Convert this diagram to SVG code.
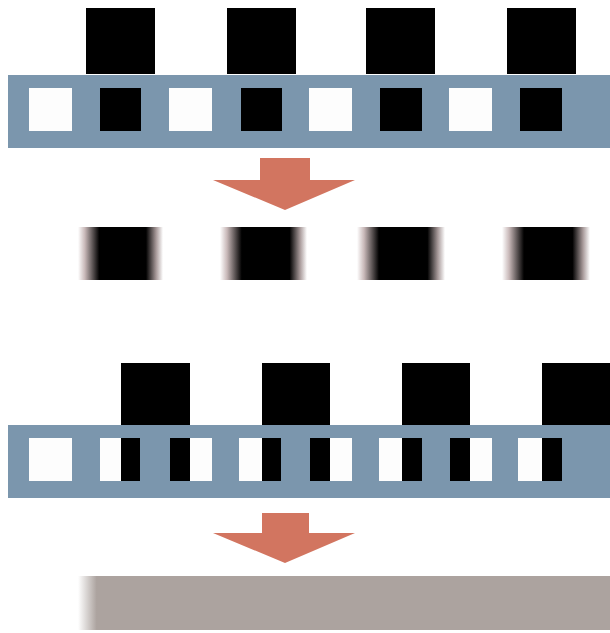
<svg xmlns="http://www.w3.org/2000/svg" width="610" height="633" viewBox="0 0 610 633">
<style>
.bar{fill:#7b96ad}
.blk{fill:#000}
.hole{fill:#fdfdfd}
.arr{fill:#d27560}
</style>
<defs>
<linearGradient id="blur" x1="0" y1="0" x2="1" y2="0">
<stop offset="0" stop-color="#fff"/>
<stop offset="0.08" stop-color="#c9b9b9"/>
<stop offset="0.25" stop-color="#000"/>
<stop offset="0.8" stop-color="#000"/>
<stop offset="0.92" stop-color="#a89a9a"/>
<stop offset="1" stop-color="#fff"/>
</linearGradient>
<linearGradient id="gfade" x1="0" y1="0" x2="1" y2="0">
<stop offset="0" stop-color="#fff"/>
<stop offset="0.035" stop-color="#aca39f"/>
<stop offset="1" stop-color="#aca39f"/>
</linearGradient>
</defs>
<g id="top-row">
<g id="top-squares">
<rect class="blk" x="86" y="8" width="69" height="66"/>
<rect class="blk" x="227" y="8" width="69" height="66"/>
<rect class="blk" x="366" y="8" width="69" height="66"/>
<rect class="blk" x="507" y="8" width="69" height="66"/>
</g>
<rect class="bar" x="8" y="75" width="602" height="73"/>
<rect class="hole" x="29" y="88" width="43" height="43"/>
<rect class="blk" x="100" y="88" width="41" height="43"/>
<rect class="hole" x="169" y="88" width="43" height="43"/>
<rect class="blk" x="241" y="88" width="41" height="43"/>
<rect class="hole" x="309" y="88" width="43" height="43"/>
<rect class="blk" x="380" y="88" width="42" height="43"/>
<rect class="hole" x="449" y="88" width="43" height="43"/>
<rect class="blk" x="520" y="88" width="42" height="43"/>
</g>
<g id="arrow1">
<polygon class="arr" points="260,158 310,158 310,180 355,180 285,210 213,180 260,180"/>
</g>
<g id="blurred-row">
<rect x="78" y="227" width="85" height="53" fill="url(#blur)"/>
<rect x="220" y="227" width="87" height="53" fill="url(#blur)"/>
<rect x="357" y="227" width="88" height="53" fill="url(#blur)"/>
<rect x="502" y="227" width="88" height="53" fill="url(#blur)"/>
</g>
<g id="bottom-row">
<g id="bottom-squares">
<rect class="blk" x="121" y="363" width="69" height="62"/>
<rect class="blk" x="262" y="363" width="68" height="62"/>
<rect class="blk" x="402" y="363" width="68" height="62"/>
<rect class="blk" x="542" y="363" width="68" height="62"/>
</g>
<rect class="bar" x="8" y="425" width="602" height="73"/>
<rect class="hole" x="29" y="438" width="43" height="43"/>
<rect class="hole" x="100" y="438" width="21" height="43"/>
<rect class="blk" x="121" y="438" width="19" height="43"/>
<rect class="blk" x="170" y="438" width="20" height="43"/>
<rect class="hole" x="190" y="438" width="22" height="43"/>
<rect class="hole" x="239" y="438" width="23" height="43"/>
<rect class="blk" x="262" y="438" width="19" height="43"/>
<rect class="blk" x="310" y="438" width="20" height="43"/>
<rect class="hole" x="330" y="438" width="22" height="43"/>
<rect class="hole" x="379" y="438" width="23" height="43"/>
<rect class="blk" x="402" y="438" width="20" height="43"/>
<rect class="blk" x="450" y="438" width="20" height="43"/>
<rect class="hole" x="470" y="438" width="22" height="43"/>
<rect class="hole" x="518" y="438" width="24" height="43"/>
<rect class="blk" x="542" y="438" width="20" height="43"/>
</g>
<g id="arrow2">
<polygon class="arr" points="262,513 309,513 309,533 355,533 285,563 213,533 262,533"/>
</g>
<g id="gray-bar">
<rect x="78" y="576" width="532" height="54" fill="url(#gfade)"/>
</g>
</svg>
